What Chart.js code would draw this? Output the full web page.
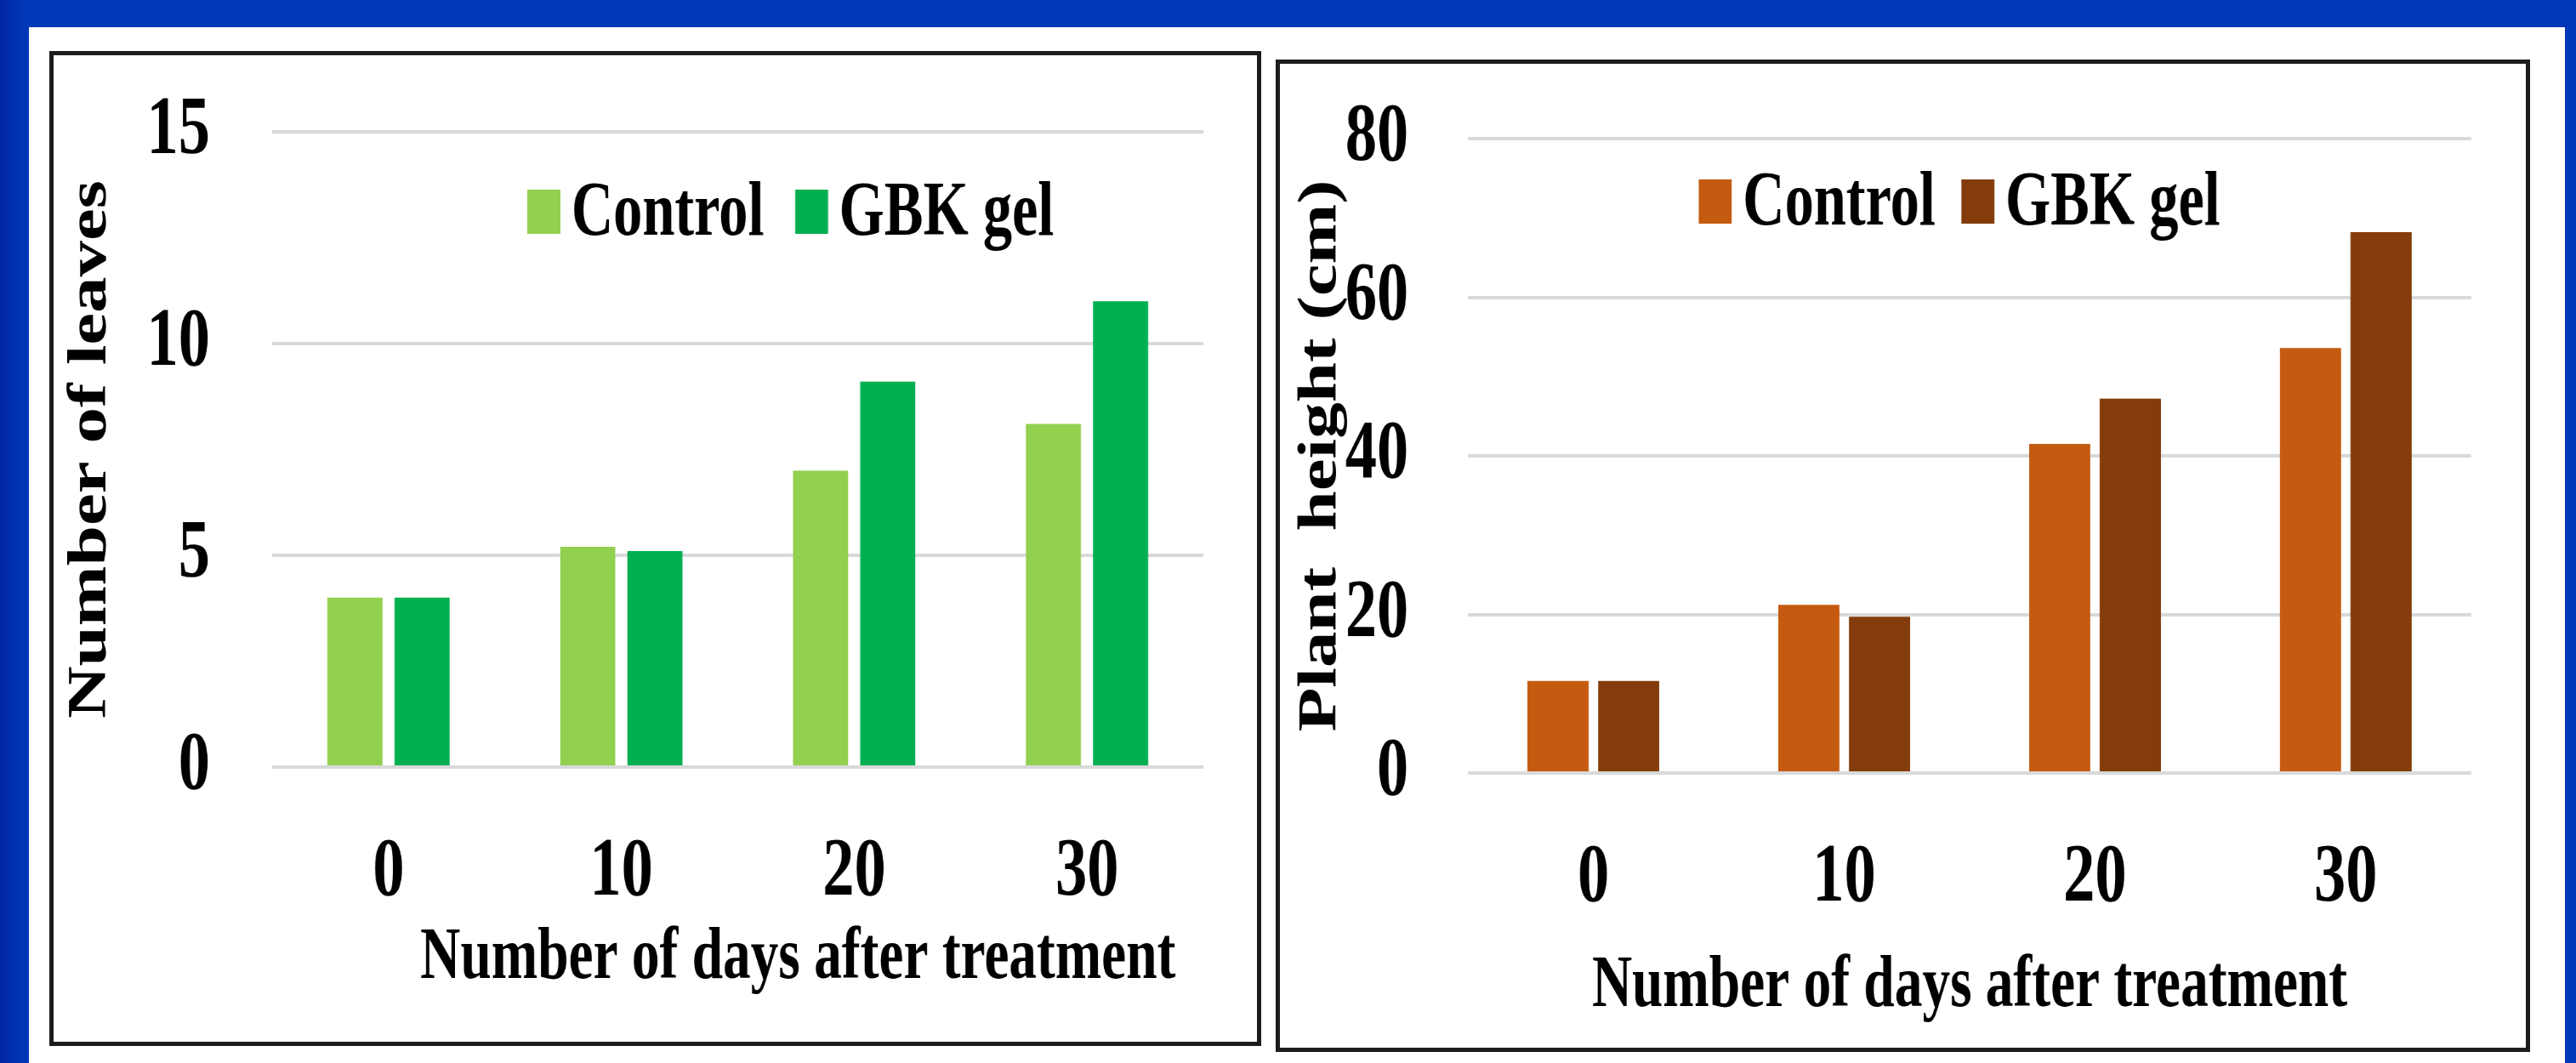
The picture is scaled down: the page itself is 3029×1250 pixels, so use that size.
<!DOCTYPE html>
<html lang="en">
<head>
<meta charset="UTF-8">
<title>Number of leaves and plant height</title>
<script src="https://cdn.jsdelivr.net/npm/chart.js"></script>
<style>
    body {
        margin: 0;
        width: 3029px;
        height: 1250px;
        overflow: hidden;
        position: relative;
        background: linear-gradient(90deg, #0024a4 0px, #0038b8 30px);
    }
    .panel {
        position: absolute;
        left: 34px;
        top: 32px;
        width: 2982px;
        height: 1218px;
        background: #fff;
    }
    .box {
        position: absolute;
        border: 5px solid #1c1c1c;
        background: #fff;
        overflow: hidden;
    }
    /* the original figure is squeezed sideways, so the canvas is too */
    .box canvas {
        position: absolute;
        left: 0;
        top: 0;
        transform: scaleX(0.76);
        transform-origin: 0 0;
    }
</style>
</head>
<body>
<div class="panel"></div>
<div class="box" style="left:58px; top:60px; width:1415px; height:1160px;">
    <canvas id="leavesChart" width="1862" height="1160"></canvas>
</div>
<div class="box" style="left:1500px; top:70px; width:1465px; height:1157px;">
    <canvas id="heightChart" width="1928" height="1157"></canvas>
</div>

<script>
// data
const days = ['0', '10', '20', '30'];
const seriesNames = ['Control', 'GBK gel'];
const leavesControl = [4, 5.2, 7, 8.1];
const leavesGel = [4, 5.1, 9.1, 11];
const heightControl = [11.6, 21.2, 41.5, 53.6];
const heightGel = [11.6, 19.7, 47.2, 68.2];
const leavesMax = 15, leavesStep = 5;
const heightMax = 80, heightStep = 20;

const serif = '"Liberation Serif", "Times New Roman", serif';
const tickFont = { family: serif, weight: 'bold', size: 98 };
const titleFont = { family: serif, weight: 'bold', size: 86 };

// legend drawn inside the plot area, under the top gridline
const insideLegend = {
    id: 'insideLegend',
    afterDraw(chart, args, opts) {
        const ctx = chart.ctx;
        const area = chart.chartArea;
        ctx.save();
        ctx.font = 'bold ' + opts.size + 'px ' + serif;
        ctx.textBaseline = 'middle';
        let x = area.left + opts.x;
        const y = area.top + opts.y;
        chart.data.datasets.forEach(ds => {
            ctx.fillStyle = ds.backgroundColor;
            ctx.fillRect(x, y - opts.boxH / 2, opts.boxW, opts.boxH);
            x += opts.boxW + opts.gap;
            ctx.fillStyle = '#000';
            ctx.fillText(ds.label, x, y + 4);
            x += ctx.measureText(ds.label).width + opts.itemGap;
        });
        ctx.restore();
    }
};

function barChart(id, control, gel, s) {
    return new Chart(document.getElementById(id), {
        type: 'bar',
        data: {
            labels: days,
            datasets: [
                { label: seriesNames[0], data: control, backgroundColor: s.colors[0],
                  categoryPercentage: s.catPct, barPercentage: s.barPct },
                { label: seriesNames[1], data: gel, backgroundColor: s.colors[1],
                  categoryPercentage: s.catPct, barPercentage: s.barPct }
            ]
        },
        options: {
            responsive: false,
            animation: false,
            layout: { padding: { left: 0, top: s.top, right: s.right, bottom: 0 } },
            plugins: {
                legend: { display: false },
                tooltip: { enabled: false },
                insideLegend: s.legend
            },
            scales: {
                x: {
                    grid: { display: false },
                    border: { display: false },
                    ticks: { font: tickFont, color: '#000', padding: 58 },
                    title: {
                        display: true,
                        text: s.xTitle,
                        font: titleFont,
                        color: '#000',
                        align: s.xAlign,
                        padding: { top: 0, bottom: s.xTitlePad }
                    },
                    afterFit: scale => { scale.height = s.xHeight; }
                },
                y: {
                    min: 0,
                    max: s.max,
                    ticks: { stepSize: s.step, font: tickFont, color: '#000', padding: s.tickPad },
                    grid: { color: '#d9d9d9', lineWidth: 4, drawTicks: false },
                    border: { display: false },
                    title: {
                        display: true,
                        text: s.yTitle,
                        font: { family: serif, weight: 'bold', size: 85 },
                        color: '#000',
                        padding: { top: s.yTitlePad, bottom: 0 }
                    },
                    // fixed width; the wide tick padding should not push the plot down
                    afterFit: scale => {
                        scale.width = s.yWidth;
                        scale.paddingTop = 0;
                        scale.paddingBottom = 0;
                    }
                }
            }
        },
        plugins: [insideLegend]
    });
}

barChart('leavesChart', leavesControl, leavesGel, {
    colors: ['#92d050', '#00b050'],
    catPct: 0.577, barPct: 0.82,
    top: 90, right: 83,
    yWidth: 338, xHeight: 323,
    tickPad: 96, yTitlePad: 7,
    xTitle: 'Number of days after treatment  ',
    xAlign: 'end', xTitlePad: 46,
    max: leavesMax, step: leavesStep,
    yTitle: 'Number of leaves',
    legend: { x: 395, y: 94, size: 90, boxW: 51, boxH: 52, gap: 17, itemGap: 48 }
});

barChart('heightChart', heightControl, heightGel, {
    colors: ['#c55a11', '#843c0c'],
    catPct: 0.563, barPct: 0.867,
    top: 88, right: 85,
    yWidth: 291, xHeight: 323,
    tickPad: 92, yTitlePad: 13,
    xTitle: 'Number of days after treatment',
    xAlign: 'center', xTitlePad: 20,
    max: heightMax, step: heightStep,
    yTitle: 'Plant  height (cm)',
    legend: { x: 357, y: 74, size: 90, boxW: 51, boxH: 52, gap: 17, itemGap: 40 }
});
</script>
</body>
</html>
